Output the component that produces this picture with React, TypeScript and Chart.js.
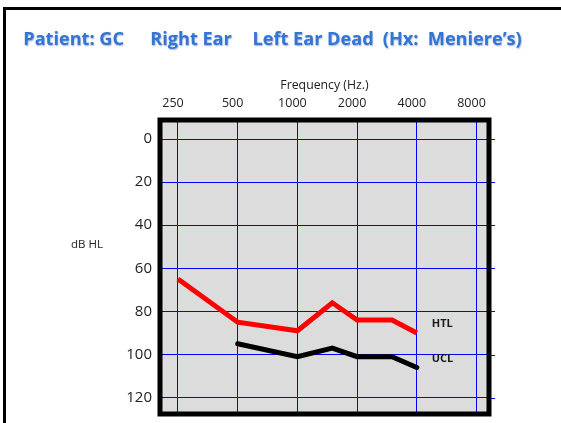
import React, { useEffect, useRef } from "react";
import { Chart, registerables } from "chart.js";

Chart.register(...registerables);

// ---- data ----
const TITLE_PARTS = ["Patient: GC", "Right Ear", "Left Ear Dead", "(Hx:  Meniere\u2019s)"];
const X_TITLE = "Frequency (Hz.)";
const Y_TITLE = "dB HL";
const FREQ_TICKS = [250, 500, 1000, 2000, 4000, 8000];
const DB_TICKS = [0, 20, 40, 60, 80, 100, 120];
const HTL_LABEL = "HTL";
const HTL_FREQS = [250, 500, 1000, 1500, 2000, 3000, 4000];
const HTL_DB = [65, 85, 89, 76, 84, 84, 90];
const UCL_LABEL = "UCL";
const UCL_FREQS = [500, 1000, 1500, 2000, 3000, 4000];
const UCL_DB = [95, 101, 97, 101, 101, 106];

// ---- layout / style (not data) ----
const W = 561;
const H = 423;
const FONT = "'Open Sans', 'DejaVu Sans', sans-serif";
const TITLE_COLOR = "#3474d4";
const TITLE_X = [23.3, 150.3, 252.6, 382.8];
const TITLE_W = [101.2, 78.7, 117.7, 144.9];

const decor = {
  id: "decor",
  beforeDraw(chart: any) {
    const { ctx, chartArea: a } = chart;
    ctx.save();
    ctx.fillStyle = "#ffffff";
    ctx.fillRect(0, 0, chart.width, chart.height);
    // outer slide frame
    ctx.strokeStyle = "#000";
    ctx.lineWidth = 3;
    ctx.strokeRect(4.5, 8.5, chart.width + 20, chart.height + 20);
    // plot background
    ctx.fillStyle = "#dcdcdc";
    ctx.fillRect(a.left, a.top, a.right - a.left, a.bottom - a.top);
    // title: fit font size to the segment widths
    ctx.font = `bold 100px ${FONT}`;
    let sum = 0;
    TITLE_PARTS.forEach((t) => (sum += ctx.measureText(t).width));
    const target = TITLE_W.reduce((p, c) => p + c, 0);
    const size = (100 * target) / sum;
    ctx.font = `bold ${size}px ${FONT}`;
    ctx.fillStyle = TITLE_COLOR;
    ctx.textBaseline = "alphabetic";
    ctx.textAlign = "left";
    ctx.shadowColor = "rgba(30,80,160,0.45)";
    ctx.shadowBlur = 1.5;
    ctx.shadowOffsetX = 0.6;
    ctx.shadowOffsetY = 0.6;
    TITLE_PARTS.forEach((t, i) => ctx.fillText(t, TITLE_X[i], 45));
    ctx.shadowColor = "transparent";
    // y axis title (horizontal)
    ctx.font = `11.5px ${FONT}`;
    ctx.fillStyle = "#222";
    ctx.textBaseline = "middle";
    ctx.fillText(Y_TITLE, 71, 244.5);
    ctx.restore();
  },
  afterDatasetsDraw(chart: any) {
    const { ctx, chartArea: a } = chart;
    ctx.save();
    // thick plot border
    ctx.strokeStyle = "#000";
    ctx.lineWidth = 5;
    ctx.strokeRect(a.left, a.top, a.right - a.left, a.bottom - a.top);
    // gridline extensions beyond right border
    const ys = chart.scales.y;
    ctx.strokeStyle = "#0000ff";
    ctx.lineWidth = 1;
    DB_TICKS.forEach((v) => {
      const py = Math.round(ys.getPixelForValue(v)) + 0.5;
      ctx.beginPath();
      ctx.moveTo(a.right + 2, py);
      ctx.lineTo(a.right + 6, py);
      ctx.stroke();
    });
    // series labels next to last point
    ctx.font = `bold 11px ${FONT}`;
    ctx.fillStyle = "#1a1a1a";
    ctx.textAlign = "left";
    ctx.textBaseline = "middle";
    chart.data.datasets.forEach((ds: any, i: number) => {
      const meta = chart.getDatasetMeta(i);
      const last = meta.data[meta.data.length - 1];
      ctx.fillText(ds.label, last.x + 15, last.y - 9);
    });
    ctx.restore();
  },
};

export default function App() {
  const ref = useRef<HTMLCanvasElement | null>(null);
  useEffect(() => {
    document.body.style.margin = "0";
    const canvas = ref.current;
    if (!canvas) return;
    const chart = new Chart(canvas, {
      type: "line",
      data: {
        datasets: [
          {
            label: HTL_LABEL,
            data: HTL_FREQS.map((f, i) => ({ x: f, y: HTL_DB[i] })),
            borderColor: "#ff0000",
            borderWidth: 5,
            pointRadius: 0,
            tension: 0,
            borderJoinStyle: "miter",
          },
          {
            label: UCL_LABEL,
            data: UCL_FREQS.map((f, i) => ({ x: f, y: UCL_DB[i] })),
            borderColor: "#000000",
            borderWidth: 5,
            pointRadius: 0,
            tension: 0,
            borderCapStyle: "round",
            borderJoinStyle: "miter",
          },
        ],
      },
      options: {
        responsive: false,
        animation: false,
        devicePixelRatio: 1,
        layout: { padding: { left: 0, top: 0, right: 72, bottom: 9 } },
        plugins: { legend: { display: false }, tooltip: { enabled: false } },
        scales: {
          x: {
            type: "logarithmic",
            position: "top",
            min: 202.9,
            max: 9250,
            afterBuildTicks: (axis: any) => {
              axis.ticks = FREQ_TICKS.map((v) => ({ value: v }));
            },
            afterFit: (axis: any) => {
              axis.height = 120;
              axis.paddingLeft = 0;
              axis.paddingRight = 0;
            },
            grid: { color: "#0000ff", lineWidth: 1, drawTicks: false },
            border: { display: false },
            ticks: {
              callback: (v: any) => String(v),
              font: { family: FONT, size: 12.5 },
              color: "#222",
              padding: 9,
              labelOffset: -5,
              maxRotation: 0,
              autoSkip: false,
            },
            title: {
              display: true,
              text: X_TITLE,
              font: { family: FONT, size: 12.3 },
              color: "#222",
              padding: { top: 78.5, bottom: 0 },
            },
          },
          y: {
            type: "linear",
            reverse: true,
            min: -8.82,
            max: 127.6,
            afterBuildTicks: (axis: any) => {
              axis.ticks = DB_TICKS.map((v) => ({ value: v }));
            },
            afterFit: (axis: any) => {
              axis.width = 160;
              axis.paddingTop = 0;
              axis.paddingBottom = 0;
            },
            grid: { color: "#0000ff", lineWidth: 1, drawTicks: false },
            border: { display: false },
            ticks: {
              font: { family: FONT, size: 15 },
              color: "#222",
              padding: 8,
            },
          },
        },
      },
      plugins: [decor],
    } as any);
    return () => chart.destroy();
  }, []);
  return (
    <div style={{ width: W, height: H }}>
      <canvas ref={ref} width={W} height={H} style={{ display: "block" }} />
    </div>
  );
}
